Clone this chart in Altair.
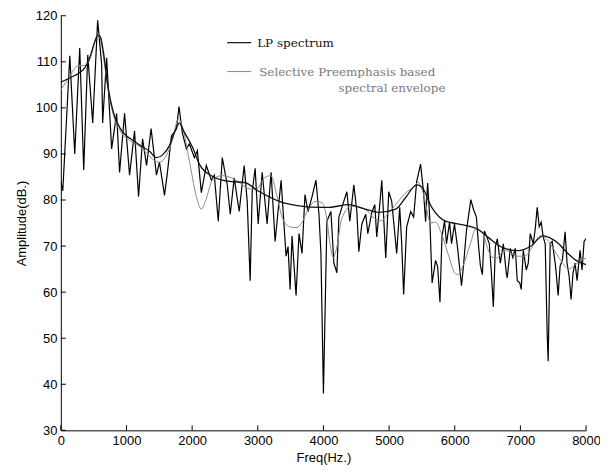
import altair as alt
import pandas as pd

# ---- raw FFT spectrum (jagged black line) ----
raw_freq = [0, 30, 137, 212, 288, 349, 410, 486, 561, 622, 637, 698, 774, 850, 895, 971,
            1047, 1123, 1184, 1245, 1306, 1375, 1457, 1503, 1579, 1624, 1685, 1761, 1800,
            1852, 1913, 1958, 2034, 2080, 2140, 2216, 2292, 2338, 2398, 2459, 2535, 2581,
            2641, 2717, 2793, 2839, 2884, 2915, 2960, 3006, 3067, 3142, 3203, 3264, 3355,
            3431, 3461, 3492, 3522, 3583, 3628, 3674, 3719, 3765, 3826, 3886, 3932, 3962,
            4000, 4053, 4114, 4159, 4205, 4235, 4281, 4357, 4402, 4463, 4509, 4539, 4585,
            4645, 4676, 4737, 4782, 4812, 4858, 4889, 4949, 4995, 5040, 5116, 5162, 5192,
            5222, 5268, 5329, 5374, 5420, 5480, 5526, 5556, 5587, 5620, 5655, 5708, 5740,
            5775, 5805, 5845, 5875, 5921, 5951, 5996, 6040, 6103, 6133, 6178, 6245, 6285,
            6330, 6360, 6391, 6421, 6451, 6490, 6527, 6558, 6588, 6619, 6649, 6694, 6740,
            6785, 6800, 6846, 6885, 6922, 6952, 6990, 7013, 7044, 7089, 7120, 7150, 7196,
            7226, 7256, 7287, 7317, 7347, 7378, 7408, 7423, 7454, 7484, 7530, 7545, 7575,
            7605, 7640, 7681, 7711, 7742, 7772, 7802, 7833, 7863, 7909, 7939, 7970, 8000]
raw_db = [84, 82, 111.3, 90, 113, 86.5, 111.5, 96.7, 119, 109.4, 96.7, 110.9, 91.1, 98.8, 86, 98.8,
          85.4, 95, 80.7, 93.3, 87.5, 95.5, 85.4, 88.2, 81, 86, 93.9, 95.4, 100.3,
          94.5, 91.1, 92.2, 89.2, 90.7, 81.6, 87.5, 84.3, 85.4, 75.4, 89.2, 83.3, 76.9,
          84.8, 77.5, 87.5, 79.7, 62.5, 81.8, 86.9, 74.8, 86, 74.8, 86, 71, 84.3,
          67.8, 69.9, 60.6, 72.2, 59.3, 72.7, 68.4, 81.2, 77.5, 80.7, 84.3, 76.9, 68.4,
          38, 75.4, 77.5, 66.3, 64.2, 76.3, 78.4, 81.8, 75.4, 83.3, 77.5, 68.8, 74.8,
          76.9, 72.7, 77.3, 79, 72, 79, 84.3, 67.4, 81.8, 79.7, 68.4, 78.4, 70.5,
          59.5, 74.2, 77.5, 76.3, 84, 87.8, 81.5, 75.3, 83.7, 76, 62, 66.9, 65.5,
          57.8, 72, 75.5, 70.5, 75.2, 70.5, 74.8, 70, 61.4, 65.7, 73.3, 80.1, 78,
          76.3, 70.5, 65.7, 63.8, 73.3, 72, 70.5, 64.2, 56.8, 69.9, 71.6, 66.3, 70.5,
          64.2, 63.1, 69.5, 67.5, 69.5, 62.5, 62, 60.6, 69.1, 64.8, 66.3, 72.7, 70.5,
          73.7, 78.4, 74.2, 75.2, 72, 70.5, 50.8, 45, 70.5, 71, 66.3, 64.2, 59.3,
          65.7, 67, 73.1, 66.3, 63.5, 58.4, 64.2, 66.3, 62.5, 69.1, 64.8, 71, 71.6]

# ---- LP spectrum (smooth black line) ----
lp_freq = [0, 150, 290, 365, 455, 510, 565, 600, 650, 713, 820, 911, 1000, 1063, 1214, 1351,
           1457, 1550, 1654, 1740, 1806, 1870, 2004, 2110, 2300, 2459, 2600, 2800, 3000,
           3200, 3327, 3600, 3980, 4083, 4387, 4600, 4843, 5100, 5250, 5420, 5500, 5650,
           5860, 6133, 6360, 6500, 6709, 6967, 7150, 7347, 7450, 7575, 7696, 7848, 8000]
lp_db = [105.6, 106.6, 107.7, 108.7, 111.5, 114, 115.8, 115.5, 112, 105.1, 98.1, 95.4, 93.9, 93.3, 91.8, 90.6,
         89.2, 89.8, 91.8, 95, 96.7, 95, 91.5, 87.8, 85.2, 84.3, 84.0, 83.8, 82,
         80.5, 79.7, 78.8, 78.4, 78.4, 79, 78.2, 77.3, 78, 80.5, 83.3, 82.8, 78.4,
         75.4, 74.6, 73.6, 72, 69.8, 69, 69.9, 72.2, 71.8, 70.6, 68.8, 66.9, 66]

# ---- Selective Preemphasis based spectral envelope (gray line) ----
env_freq = [0, 106, 200, 258, 364, 440, 516, 565, 610, 660, 720, 820, 911, 1063, 1214, 1300,
            1420, 1500, 1600, 1700, 1790, 1850, 1958, 2060, 2140, 2220, 2307, 2450, 2570,
            2700, 2850, 2975, 3100, 3200, 3290, 3370, 3480, 3582, 3680, 3760, 3886, 3980,
            4050, 4100, 4150, 4200, 4280, 4418, 4550, 4700, 4797, 4880, 4980, 5100, 5250,
            5374, 5440, 5520, 5632, 5708, 5790, 5905, 6000, 6050, 6120, 6239, 6315, 6380,
            6436, 6500, 6570, 6634, 6740, 6800, 6937, 7060, 7120, 7220, 7302, 7393, 7470,
            7545, 7640, 7727, 7833, 7924, 8000]
env_db = [103.9, 106.2, 108.3, 109.2, 109.2, 110.4, 114.5, 116, 114.5, 110, 104, 97.5, 94.8, 92.8, 91.5, 90.3,
          88.6, 88.2, 89.5, 93, 97.6, 96, 88.5, 81, 78, 80.5, 84.3, 85.3, 85,
          84, 82.5, 82.3, 84.8, 85.3, 81, 76.3, 74.2, 74, 75.3, 77.8, 79.7, 79.4,
          76, 70.5, 67.5, 69.5, 76, 78.6, 78.5, 77.2, 75.8, 75.5, 77, 79, 81.5,
          82.8, 83.8, 81.5, 75, 75.2, 73, 68, 64.2, 63.8, 65.5, 70.5, 73.6, 73.3,
          72.6, 69.5, 67.6, 67.4, 68.8, 69, 67.8, 67.8, 68.4, 70.8, 72.2, 71.6, 70.2,
          68.4, 66.4, 65, 65.9, 66.9, 67.4]

x_ticks = [0, 1000, 2000, 3000, 4000, 5000, 6000, 7000, 8000]
y_ticks = [30, 40, 50, 60, 70, 80, 90, 100, 110, 120]

legend_lp = ["LP spectrum"]
legend_env1 = ["Selective Preemphasis based"]
legend_env2 = ["spectral envelope"]

W, H = 527, 416
xs = alt.Scale(domain=[0, 8000], nice=False, zero=False)
ys = alt.Scale(domain=[30, 120], nice=False, zero=False)
xa = alt.Axis(title="Freq(Hz.)", values=x_ticks, format="d", titlePadding=4)
ya = alt.Axis(title="Amplitude(dB.)", values=y_ticks, format="d", titlePadding=7)


def enc_x(field):
    return alt.X(field, scale=xs, axis=xa)


def enc_y(field):
    return alt.Y(field, scale=ys, axis=ya)


raw = alt.Chart(pd.DataFrame({"f": raw_freq, "a": raw_db})).mark_line(
    color="black", strokeWidth=1.2, clip=True
).encode(x=enc_x("f:Q"), y=enc_y("a:Q"))

env = alt.Chart(pd.DataFrame({"f": env_freq, "a": env_db})).mark_line(
    color="#8a8a8a", strokeWidth=1, interpolate="monotone", clip=True
).encode(x=enc_x("f:Q"), y=enc_y("a:Q"))

lp = alt.Chart(pd.DataFrame({"f": lp_freq, "a": lp_db})).mark_line(
    color="#111111", strokeWidth=1.3, interpolate="monotone", clip=True
).encode(x=enc_x("f:Q"), y=enc_y("a:Q"))

xt = alt.Chart(pd.DataFrame({"f": x_ticks})).mark_rule(color="black", strokeWidth=1).encode(
    x=enc_x("f:Q"), y=alt.value(H), y2=alt.value(H - 5))
yt = alt.Chart(pd.DataFrame({"a": y_ticks})).mark_rule(color="black", strokeWidth=1).encode(
    y=enc_y("a:Q"), x=alt.value(0), x2=alt.value(5))

# legend
leg_lp_line = alt.Chart(pd.DataFrame({"t": legend_lp})).mark_rule(color="#222222", strokeWidth=1.3).encode(
    x=alt.value(167), x2=alt.value(191), y=alt.value(27))
leg_env_line = alt.Chart(pd.DataFrame({"t": legend_env1})).mark_rule(color="#8a8a8a", strokeWidth=1).encode(
    x=alt.value(167), x2=alt.value(191), y=alt.value(56))
leg_lp_text = alt.Chart(pd.DataFrame({"t": legend_lp})).mark_text(
    font="DejaVu Serif", fontSize=12, color="#111111", align="left", baseline="middle").encode(
    x=alt.value(197), y=alt.value(27), text="t:N")
leg_env_text1 = alt.Chart(pd.DataFrame({"t": legend_env1})).mark_text(
    font="DejaVu Serif", fontSize=12, color="#7a7a7a", align="left", baseline="middle").encode(
    x=alt.value(199), y=alt.value(56), text="t:N")
leg_env_text2 = alt.Chart(pd.DataFrame({"t": legend_env2})).mark_text(
    font="DejaVu Serif", fontSize=12, color="#7a7a7a", align="right", baseline="middle").encode(
    x=alt.value(386), y=alt.value(73), text="t:N")

chart = alt.layer(
    raw, env, lp, xt, yt,
    leg_lp_line, leg_env_line, leg_lp_text, leg_env_text1, leg_env_text2
).properties(
    width=W, height=H,
    padding={"left": 53, "top": 7, "right": 14, "bottom": 34},
    autosize=alt.AutoSizeParams(type="none"),
    background="white",
).configure_view(
    stroke="transparent"
).configure_axis(
    grid=False,
    domainColor="black",
    domainWidth=1,
    ticks=False,
    labelPadding=4,
    labelFont="Liberation Sans",
    labelFontSize=13,
    labelColor="black",
    labelFlush=False,
    labelOverlap=False,
    titleFont="Liberation Sans",
    titleFontSize=13,
    titleFontWeight="normal",
    titleColor="black",
)

chart.save("out.html", embed_options={"renderer": "svg", "actions": False})
